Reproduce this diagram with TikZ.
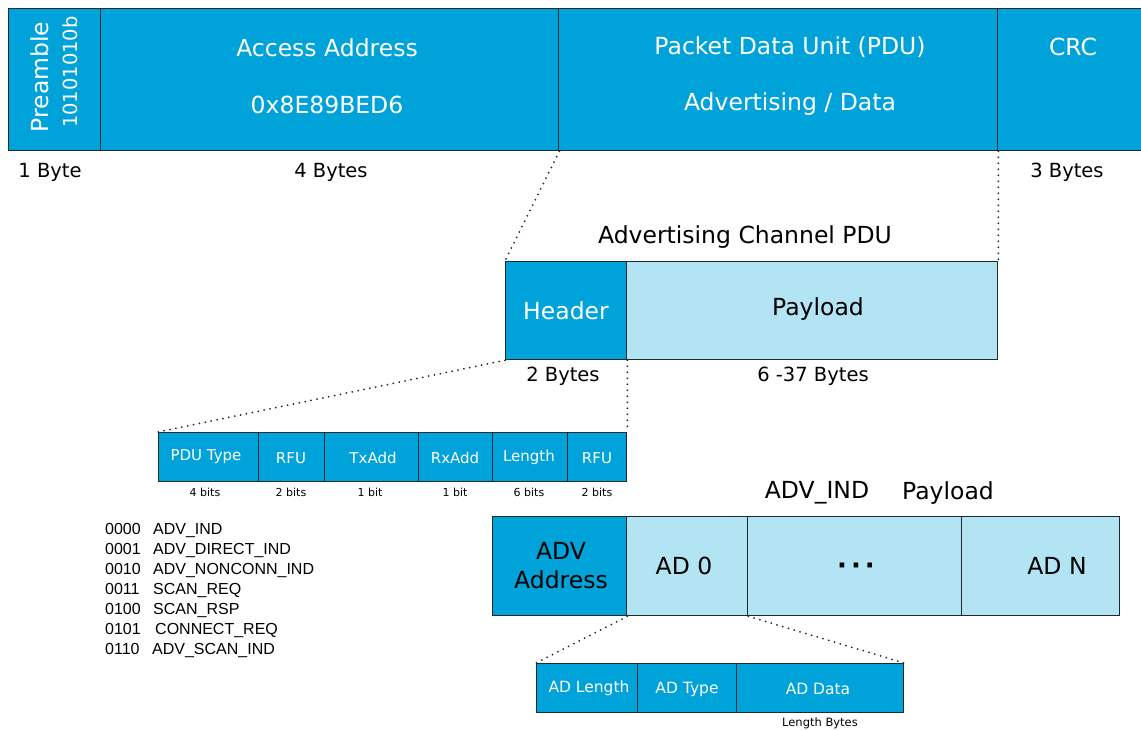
\documentclass[tikz,border=0pt]{standalone}
\usepackage{fontspec}
\setmainfont{DejaVu Sans}
\newfontfamily\arialf{Liberation Sans}
\definecolor{bleblue}{HTML}{00A3D9}
\definecolor{blelight}{HTML}{B2E4F4}
\definecolor{edge}{HTML}{1E2A30}
\newcommand{\fs}[1]{\fontsize{#1}{#1}\selectfont}
\tikzset{
  field/.style={draw=edge, line width=1.3pt, fill=bleblue, inner sep=0pt,
                anchor=north west, text=white},
  lightfield/.style={field, fill=blelight, text=black},
  big/.style={font=\fs{23.5}},
  mid/.style={font=\fs{19.5}},
  small/.style={font=\fs{15}},
  tiny/.style={font=\fs{11}},
  code/.style={font=\arialf\fs{16}, anchor=base west, inner sep=0pt},
  zoomline/.style={draw=edge, line width=2pt, dash pattern=on 0pt off 6pt, line cap=round},
}
\begin{document}
\begin{tikzpicture}[x=1pt, y=-1pt]
\useasboundingbox (0,0) rectangle (1141,731);

% ---------- link layer packet ----------
\node[field, minimum width=92pt, minimum height=142pt] (pre) at (8,8) {};
\node[field, minimum width=458pt, minimum height=142pt] (aa) at (100,8) {};
\node[field, minimum width=439pt, minimum height=142pt] (pdu) at (558,8) {};
\node[field, minimum width=146pt, minimum height=142pt] (crc) at (997,8) {};

\node[big, text=white, rotate=90] (pretxt) at (40,77) {Preamble};
\node[font=\fs{19.5}, text=white, rotate=90] (prebits) at (70,72) {10101010b};
\node[big, text=white] (aatxt) at (327,48) {Access Address};
\node[big, text=white] (aaval) at (327,105) {0x8E89BED6};
\node[big, text=white] (pdutxt) at (790,47) {Packet Data Unit (PDU)};
\node[big, text=white] (pdukind) at (790,104) {Advertising / Data};
\node[big, text=white] (crctxt) at (1073,47) {CRC};

\node[mid] (l1) at (50,172) {1 Byte};
\node[mid] (l4) at (331,172) {4 Bytes};
\node[mid] (l3) at (1067,172) {3 Bytes};

% ---------- advertising channel PDU ----------
\node[big] (advtitle) at (745,237) {Advertising Channel PDU};
\node[field, minimum width=121pt, minimum height=98pt] (hdr) at (505,261) {};
\node[lightfield, minimum width=371pt, minimum height=98pt] (pay) at (626,261) {};
\node[big, text=white] (hdrtxt) at (566,311) {Header};
\node[big] (paytxt) at (818,309) {Payload};
\node[mid] (l2b) at (563,376) {2 Bytes};
\node[mid] (l637) at (813,376) {6 -37 Bytes};

\draw[zoomline] (aa.south east) -- (hdr.north west);
\draw[zoomline] (pdu.south east) -- (pay.north east);

% ---------- header bit fields ----------
\node[field, minimum width=100pt, minimum height=49pt] (ptype) at (158,432) {};
\node[field, minimum width=66pt, minimum height=49pt] (rfua) at (258,432) {};
\node[field, minimum width=94pt, minimum height=49pt] (txadd) at (324,432) {};
\node[field, minimum width=74pt, minimum height=49pt] (rxadd) at (418,432) {};
\node[field, minimum width=75pt, minimum height=49pt] (hlen) at (492,432) {};
\node[field, minimum width=59pt, minimum height=49pt] (rfub) at (567,432) {};
\node[small, text=white] at (206,457) {PDU Type};
\node[small, text=white] at (291,458) {RFU};
\node[small, text=white] at (373,458) {TxAdd};
\node[small, text=white] at (455,458) {RxAdd};
\node[small, text=white] at (529,457) {Length};
\node[small, text=white] at (597,458) {RFU};
\node[tiny] at (205,492) {4 bits};
\node[tiny] at (291,492) {2 bits};
\node[tiny] at (370,492) {1 bit};
\node[tiny] at (455,492) {1 bit};
\node[tiny] at (529,492) {6 bits};
\node[tiny] at (597,492) {2 bits};

\draw[zoomline] (hdr.south west) -- (ptype.north west);
\draw[zoomline] (hdr.south east) -- (rfub.north east);

% ---------- PDU type codes ----------
\node[code] (c0) at (105,534) {0000};  \node[code] (n0) at (153,534) {ADV\_IND};
\node[code] (c1) at (105,554) {0001};  \node[code] (n1) at (153,554) {ADV\_DIRECT\_IND};
\node[code] (c2) at (105,574) {0010};  \node[code] (n2) at (153,574) {ADV\_NONCONN\_IND};
\node[code] (c3) at (105,594) {0011};  \node[code] (n3) at (153,594) {SCAN\_REQ};
\node[code] (c4) at (105,614) {0100};  \node[code] (n4) at (153,614) {SCAN\_RSP};
\node[code] (c5) at (105,634) {0101};  \node[code] (n5) at (155,634) {CONNECT\_REQ};
\node[code] (c6) at (105,654) {0110};  \node[code] (n6) at (152,654) {ADV\_SCAN\_IND};

% ---------- ADV_IND payload ----------
\node[big] (indname) at (817,493) {ADV\_IND};
\node[big] (indpay) at (948,493) {Payload};
\node[field, minimum width=134pt, minimum height=99pt] (advaddr) at (492,516) {};
\node[lightfield, minimum width=121pt, minimum height=99pt] (ad0) at (626,516) {};
\node[lightfield, minimum width=214pt, minimum height=99pt] (addots) at (747,516) {};
\node[lightfield, minimum width=158pt, minimum height=99pt] (adn) at (961,516) {};
\node[big] at (561,551) {ADV};
\node[big] at (561,580) {Address};
\node[big] at (684,566) {AD 0};
\node[font=\bfseries\fs{26}] at (856,569) {·\hspace{4pt}·\hspace{4pt}·};
\node[big] at (1057,566) {AD N};

% ---------- AD structure ----------
\node[field, minimum width=101pt, minimum height=49pt] (adlen) at (536,663) {};
\node[field, minimum width=99pt, minimum height=49pt] (adtype) at (637,663) {};
\node[field, minimum width=167pt, minimum height=49pt] (addata) at (736,663) {};
\node[font=\fs{15.5}, text=white] at (589,688) {AD Length};
\node[font=\fs{15.5}, text=white] at (687,689) {AD Type};
\node[font=\fs{15.5}, text=white] at (818,689) {AD Data};
\node[font=\fs{11.5}] at (820,723) {Length Bytes};

\draw[zoomline] (advaddr.south east) -- (adlen.north west);
\draw[zoomline] (ad0.south east) -- (addata.north east);
\end{tikzpicture}
\end{document}
